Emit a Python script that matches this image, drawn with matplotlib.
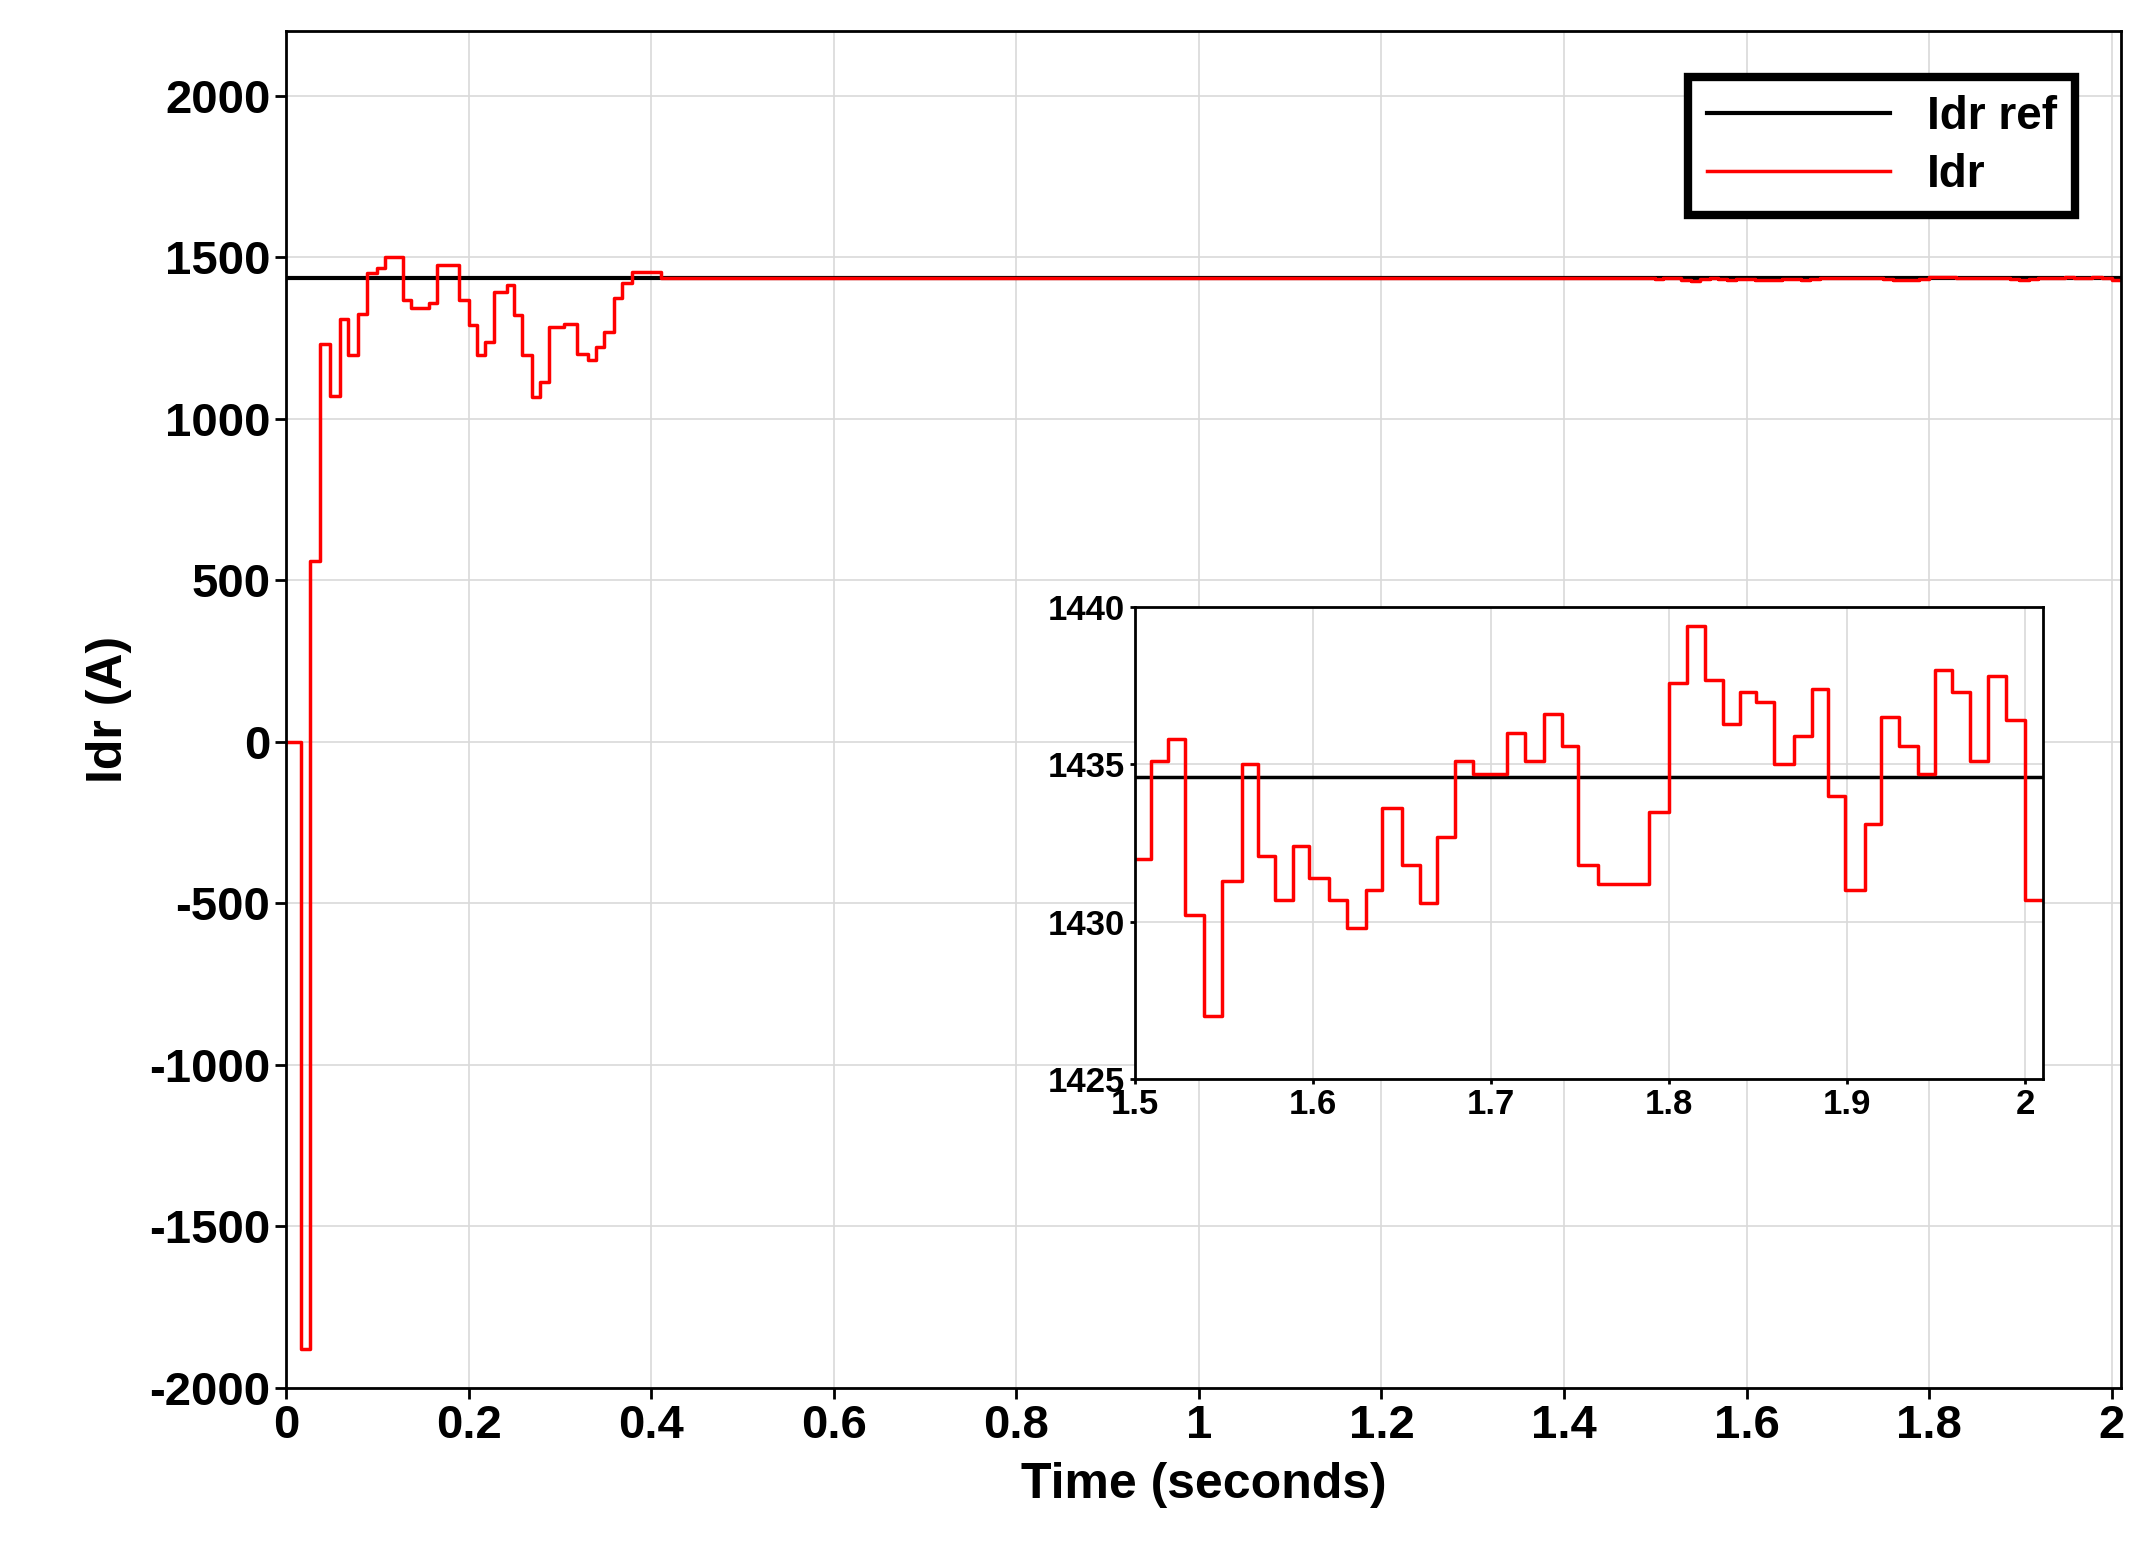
import matplotlib
matplotlib.use("Agg")
import matplotlib.pyplot as plt
import numpy as np

plt.rcParams['font.family'] = ['Liberation Sans', 'DejaVu Sans']
plt.rcParams['font.weight'] = 'bold'
plt.rcParams['axes.unicode_minus'] = False

# transient (step points: time, value)
t_main = [0.0, 0.016, 0.026, 0.0366, 0.0476, 0.0586, 0.0678, 0.078, 0.088, 0.099, 0.108, 0.128,
          0.137, 0.156, 0.165, 0.189, 0.200, 0.209, 0.218, 0.227, 0.242, 0.249, 0.258, 0.269,
          0.278, 0.288, 0.304, 0.319, 0.331, 0.339, 0.348, 0.359, 0.368, 0.379, 0.401, 0.41, 1.5]
v_main = [0, -1880, 560, 1233, 1072, 1310, 1197, 1326, 1450, 1466, 1502, 1367,
          1342, 1357, 1476, 1367, 1290, 1197, 1238, 1393, 1414, 1321, 1197, 1067,
          1114, 1285, 1295, 1202, 1181, 1223, 1269, 1373, 1419, 1455, 1455, 1435, 1432.0]

# steady state (step points)
t_ss = [1.500, 1.509, 1.519, 1.528, 1.539, 1.549, 1.560, 1.569, 1.579, 1.589, 1.598, 1.609,
        1.619, 1.630, 1.639, 1.650, 1.660, 1.670, 1.680, 1.690, 1.709, 1.719, 1.730, 1.740,
        1.749, 1.760, 1.789, 1.800, 1.810, 1.820, 1.830, 1.840, 1.849, 1.859, 1.870, 1.880,
        1.889, 1.899, 1.910, 1.919, 1.929, 1.940, 1.949, 1.959, 1.969, 1.979, 1.989, 2.000, 2.01]
v_ss = [1432.0, 1435.1, 1435.8, 1430.2, 1427.0, 1431.3, 1435.0, 1432.1, 1430.7, 1432.4, 1431.4, 1430.7,
        1429.8, 1431.0, 1433.6, 1431.8, 1430.6, 1432.7, 1435.1, 1434.7, 1436.0, 1435.1, 1436.6, 1435.6,
        1431.8, 1431.2, 1433.5, 1437.6, 1439.4, 1437.7, 1436.3, 1437.3, 1437.0, 1435.0, 1435.9, 1437.4,
        1434.0, 1431.0, 1433.1, 1436.5, 1435.6, 1434.7, 1438.0, 1437.3, 1435.1, 1437.8, 1436.4, 1430.7, 1430.7]
idr_ref = 1434.6

t_all = t_main + t_ss[1:]
v_all = v_main + v_ss[1:]

fig = plt.figure(figsize=(21.53, 15.61), dpi=100)
ax = fig.add_axes([0.133, 0.111, 0.852, 0.869])
ax.plot([0, 2.01], [idr_ref, idr_ref], color='black', lw=3, label='Idr ref')
ax.step(t_all, v_all, where='post', color='red', lw=2.5, label='Idr')
ax.set_xlim(0, 2.01)
ax.set_ylim(-2000, 2200)
ax.set_xticks(np.arange(0, 2.01, 0.2))
ax.set_xticklabels(['0', '0.2', '0.4', '0.6', '0.8', '1', '1.2', '1.4', '1.6', '1.8', '2'])
ax.set_yticks(np.arange(-2000, 2001, 500))
ax.grid(True, color='#d9d9d9', lw=1.2)
ax.tick_params(labelsize=34, width=2, length=8)
for s in ax.spines.values():
    s.set_linewidth(2)
ax.set_xlabel('Time (seconds)', fontsize=36, fontweight='bold', labelpad=10)
ax.set_ylabel('Idr (A)', fontsize=36, fontweight='bold', labelpad=12)
leg = ax.legend(loc='upper right', fontsize=33, fancybox=False, framealpha=1,
                handlelength=4, borderaxespad=1.0, labelspacing=0.3)
leg.get_frame().set_edgecolor('black')
leg.get_frame().set_linewidth(6)

ins = fig.add_axes([0.527, 0.309, 0.422, 0.302])
ins.plot([1.5, 2.01], [idr_ref, idr_ref], color='black', lw=2.5)
ins.step(t_ss, v_ss, where='post', color='red', lw=2.5)
ins.set_xlim(1.5, 2.01)
ins.set_ylim(1425, 1440)
ins.set_xticks([1.5, 1.6, 1.7, 1.8, 1.9, 2.0])
ins.set_xticklabels(['1.5', '1.6', '1.7', '1.8', '1.9', '2'])
ins.set_yticks([1425, 1430, 1435, 1440])
ins.grid(True, color='#d9d9d9', lw=1.2)
ins.tick_params(labelsize=25, width=2)
for s in ins.spines.values():
    s.set_linewidth(2)

fig.savefig('out.png', dpi=100)
